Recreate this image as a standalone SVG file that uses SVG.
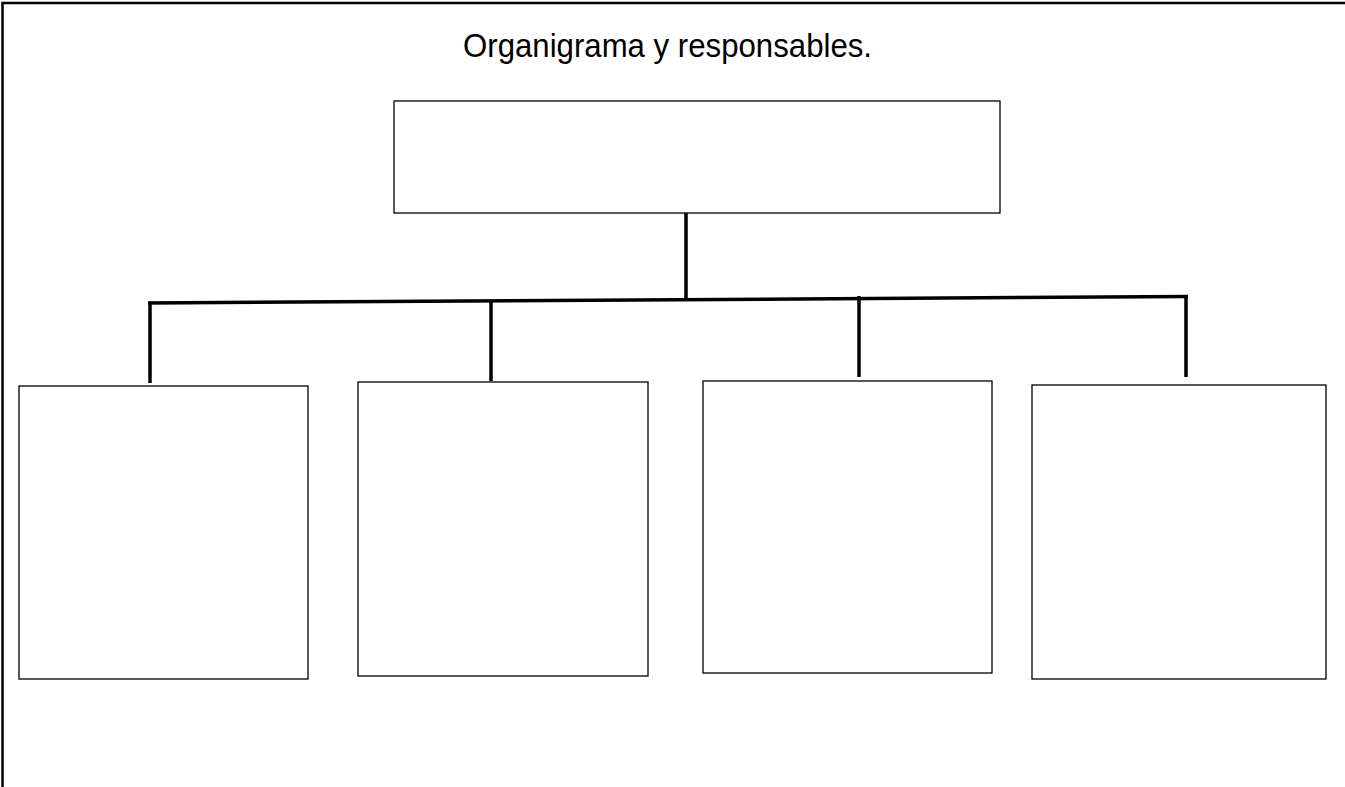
<svg xmlns="http://www.w3.org/2000/svg" width="1345" height="787" viewBox="0 0 1345 787">
<style>
.box{fill:#fff;stroke:#000;stroke-width:1.3}
.con{stroke:#000;stroke-width:3.5;fill:none;stroke-linecap:butt}
.frame{stroke:#000;stroke-width:2.5;fill:none}
.title{font-family:"Liberation Sans",Arial,sans-serif;font-size:33px;fill:#000}
</style>
<rect width="1345" height="787" fill="#fff"/>
<g id="frame"><path class="frame" d="M2.5,787 V3 H1345"/></g>
<text class="title" x="667.5" y="57" text-anchor="middle" textLength="409" lengthAdjust="spacingAndGlyphs">Organigrama y responsables.</text>
<g id="connectors">
<line class="con" x1="686" y1="213" x2="686" y2="299"/>
<line class="con" x1="148" y1="303" x2="1188" y2="296.5"/>
<line class="con" x1="150" y1="303" x2="150" y2="383"/>
<line class="con" x1="491" y1="301" x2="491" y2="381"/>
<line class="con" x1="859" y1="296" x2="859" y2="377"/>
<line class="con" x1="1186" y1="296" x2="1186" y2="377"/>
</g>
<g id="top"><rect class="box" x="394" y="101" width="606" height="112"/></g>
<g id="box1"><rect class="box" x="19" y="386" width="289" height="293"/></g>
<g id="box2"><rect class="box" x="358" y="382" width="290" height="294"/></g>
<g id="box3"><rect class="box" x="703" y="381" width="289" height="292"/></g>
<g id="box4"><rect class="box" x="1032" y="385" width="294" height="294"/></g>
</svg>
